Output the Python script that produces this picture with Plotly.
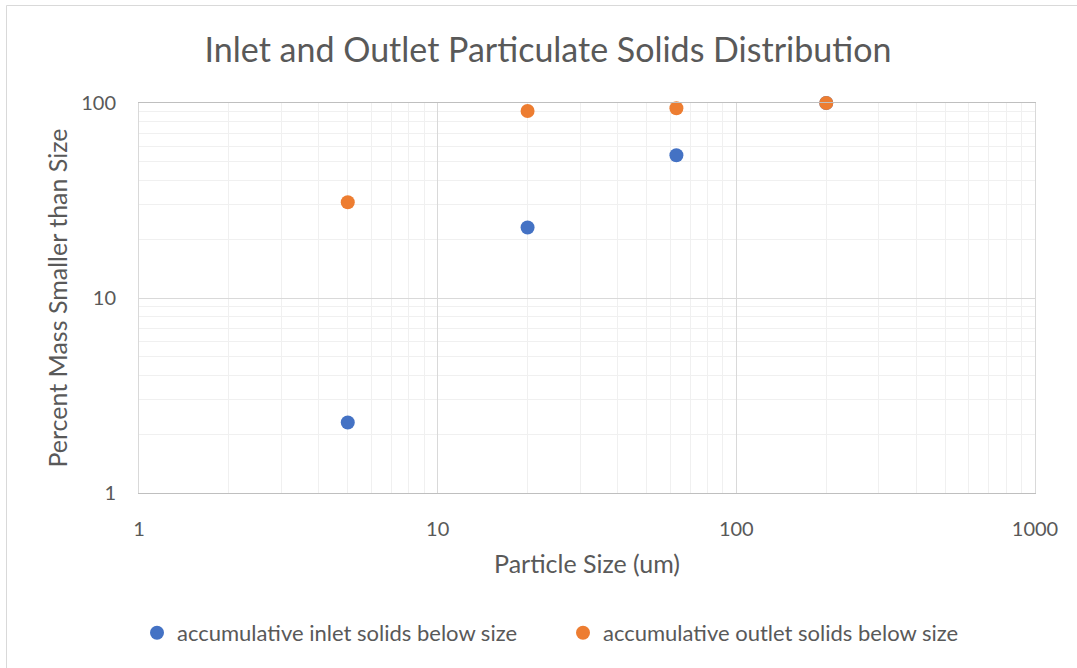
import plotly.graph_objects as go

particle_size = [5, 20, 63, 200]
inlet_pct = [2.3, 23, 54, 100]
outlet_pct = [31, 91, 94, 100]

series_names = ["accumulative inlet solids below size", "accumulative outlet solids below size"]
x_ticks = [1, 10, 100, 1000]
y_ticks = [1, 10, 100]
minor_x = [m * d for d in [1, 10, 100] for m in range(2, 10)]
minor_y = [m * d for d in [1, 10] for m in range(2, 10)]

FONT = "Lato"
GRAY = "#595959"

fig = go.Figure()
fig.add_trace(go.Scatter(x=particle_size, y=inlet_pct, mode="markers", name=series_names[0],
                         marker=dict(color="#4472C4", size=14), cliponaxis=False))
fig.add_trace(go.Scatter(x=particle_size, y=outlet_pct, mode="markers", name=series_names[1],
                         marker=dict(color="#ED7D31", size=14), cliponaxis=False))

L, R, T, B = 139, 42, 103, 175
W, H = 1077, 668
pw, ph = W - L - R, H - T - B

fig.update_layout(
    width=W, height=H,
    margin=dict(l=L, r=R, t=T, b=B),
    paper_bgcolor="white", plot_bgcolor="white",
    font=dict(family=FONT, color=GRAY, size=16),
    title=dict(text="Inlet and Outlet Particulate Solids Distribution", x=548 / W, xref="container",
               y=1 - 50 / H, yref="container", yanchor="middle", xanchor="center",
               font=dict(size=34, color=GRAY, family=FONT)),
    showlegend=True,
    legend=dict(orientation="h", x=(157 - 20 - L) / pw, xanchor="left", y=-(633 - 493) / ph, yanchor="middle",
                font=dict(size=22, color=GRAY), entrywidth=381, entrywidthmode="pixels",
                tracegroupgap=0, borderwidth=0),
    xaxis=dict(type="log", range=[0, 3], tickvals=x_ticks, ticktext=[str(v) for v in x_ticks],
               showgrid=True, gridcolor="#d9d9d9", gridwidth=1,
               minor=dict(tickvals=minor_x, showgrid=True, gridcolor="#f0f0f0", gridwidth=1, ticks=""),
               showline=True, linecolor="#bfbfbf", linewidth=1, mirror=True, ticks="",
               tickfont=dict(size=20, color=GRAY), ticklabelstandoff=18,
               zeroline=False,
               title=dict(text="Particle Size (um)", font=dict(size=25, color=GRAY), standoff=16)),
    yaxis=dict(type="log", range=[0, 2], tickvals=y_ticks, ticktext=[str(v) for v in y_ticks],
               showgrid=True, gridcolor="#d9d9d9", gridwidth=1,
               minor=dict(tickvals=minor_y, showgrid=True, gridcolor="#f0f0f0", gridwidth=1, ticks=""),
               showline=True, linecolor="#d9d9d9", linewidth=1, mirror=True, ticks="",
               tickfont=dict(size=20, color=GRAY), ticklabelstandoff=18,
               zeroline=False,
               title=dict(text="Percent Mass Smaller than Size", font=dict(size=25, color=GRAY), standoff=6)),
)

# outer chart border
fig.add_shape(type="rect", xref="paper", yref="paper",
              x0=(6.5 - L) / pw, x1=(W + 20 - L) / pw,
              y0=-(H + 20 - (T + ph)) / ph, y1=1 + (T - 5.5) / ph,
              line=dict(color="#d9d9d9", width=1), fillcolor="rgba(0,0,0,0)", layer="below")

fig.write_html("out.html")
